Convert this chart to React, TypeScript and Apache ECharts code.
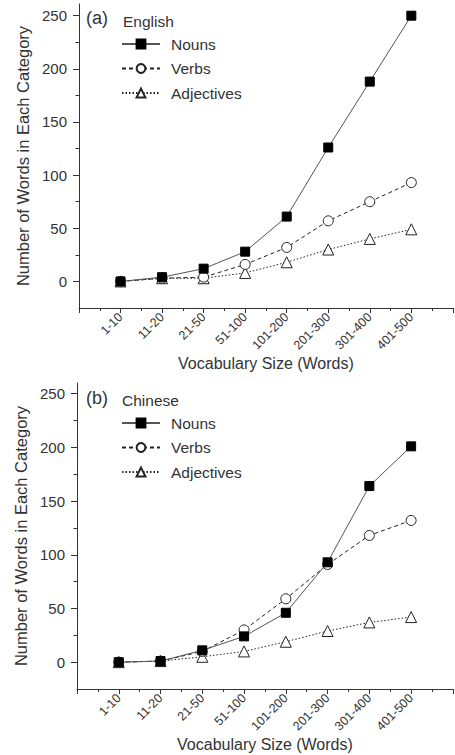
import React, { useEffect, useRef } from "react";
import * as echarts from "echarts";

const categories = ["1-10", "11-20", "21-50", "51-100", "101-200", "201-300", "301-400", "401-500"];
const engNouns = [0, 4, 12, 28, 61, 126, 188, 250];
const engVerbs = [0, 3, 4, 16, 32, 57, 75, 93];
const engAdj = [0, 3, 3, 8, 18, 30, 40, 49];
const chiNouns = [0, 1, 11, 24, 46, 93, 164, 201];
const chiVerbs = [0, 1, 10, 30, 59, 91, 118, 132];
const chiAdj = [0, 1, 5, 10, 19, 29, 37, 42];
const yLabels = [0, 50, 100, 150, 200, 250];
const yMinor = [25, 75, 125, 175, 225];

const FONT = "Liberation Sans";
const TXT = "#333";
const AX = "#333";

const toPts = (vals: number[]) => vals.map((v, i) => [i + 1, v]);

function App() {
  const ref = useRef<HTMLDivElement>(null);
  useEffect(() => {
    document.body.style.margin = "0";
    const chart = echarts.init(ref.current!, null, { renderer: "svg" });
    const xAxis = (gridIndex: number) => ({
      type: "value",
      gridIndex,
      min: 0,
      max: 9,
      interval: 1,
      axisLine: { show: true, onZero: false, lineStyle: { color: AX, width: 1 } },
      axisTick: { show: true, inside: false, length: 5, lineStyle: { color: AX } },
      minorTick: { show: true, splitNumber: 2, length: 3, lineStyle: { color: AX } },
      splitLine: { show: false },
      minorSplitLine: { show: false },
      axisLabel: {
        rotate: 45,
        margin: 7,
        fontFamily: FONT,
        fontSize: 12.5,
        color: TXT,
        formatter: (v: number) => categories[Math.round(v) - 1] ?? "",
      },
      name: "Vocabulary Size (Words)",
      nameLocation: "middle",
      nameGap: 44,
      nameTextStyle: { fontFamily: FONT, fontSize: 16, color: TXT },
    });
    const yAxis = (gridIndex: number, max: number) => ({
      type: "value",
      gridIndex,
      position: "left",
      min: -25,
      max,
      interval: 25,
      axisLine: { show: true, onZero: false, lineStyle: { color: AX, width: 1 } },
      axisTick: { show: true, inside: false, length: 6, customValues: yLabels, lineStyle: { color: AX } },
      splitLine: { show: false },
      axisLabel: {
        margin: 12,
        fontFamily: FONT,
        fontSize: 15,
        color: TXT,
        customValues: yLabels,
        formatter: (v: number) => String(v),
      },
      name: "Number of Words in Each Category",
      nameLocation: "middle",
      nameGap: 48,
      nameRotate: 90,
      nameTextStyle: { fontFamily: FONT, fontSize: 16.5, color: TXT },
    });
    const yMinorAxis = (gridIndex: number, max: number) => ({
      type: "value",
      gridIndex,
      position: "left",
      offset: 0,
      min: -25,
      max,
      interval: 25,
      axisLine: { show: false, onZero: false },
      axisTick: { show: true, inside: false, length: 3.5, customValues: yMinor, lineStyle: { color: AX } },
      splitLine: { show: false },
      axisLabel: { show: false },
    });
    const mk = (name: string, data: number[], idx: number, kind: number) => {
      const styles = [
        { symbol: "rect", symbolSize: 9, line: { color: "#555", width: 1, type: "solid" }, item: { color: "#000", borderColor: "#000", borderWidth: 1 } },
        { symbol: "circle", symbolSize: 10, line: { color: "#222", width: 1, type: [4, 3] }, item: { color: "#fff", borderColor: "#222", borderWidth: 1 } },
        { symbol: "triangle", symbolSize: 11, line: { color: "#222", width: 1, type: [1.5, 2] }, item: { color: "#fff", borderColor: "#222", borderWidth: 1 } },
      ][kind];
      return {
        type: "line",
        name,
        xAxisIndex: idx,
        yAxisIndex: idx,
        data: toPts(data),
        symbol: styles.symbol,
        symbolSize: styles.symbolSize,
        showAllSymbol: true,
        lineStyle: styles.line,
        itemStyle: styles.item,
        z: 5 - kind,
      };
    };
    const legend = (top: number) => ({
      orient: "vertical",
      left: 121,
      top,
      padding: 0,
      itemWidth: 38,
      itemHeight: 11,
      itemGap: 8.5,
      data: ["Nouns", "Verbs", "Adjectives"],
      textStyle: { fontFamily: FONT, fontSize: 15.5, color: TXT, padding: [0, 0, 0, 6] },
      selectedMode: false,
    });
    chart.setOption({
      animation: false,
      backgroundColor: "#fff",
      grid: [
        { left: 79, top: 4, width: 378, height: 304 },
        { left: 77, top: 383, width: 379, height: 306 },
      ],
      xAxis: [xAxis(0), xAxis(1)],
      yAxis: [yAxis(0, 261), yAxis(1, 260), yMinorAxis(0, 261), yMinorAxis(1, 260)],
      legend: [legend(36), legend(415)],
      graphic: [
        { type: "text", left: 86, top: 9, style: { text: "(a)", font: `18px ${FONT}`, fill: TXT } },
        { type: "text", left: 123, top: 13, style: { text: "English", font: `15.5px ${FONT}`, fill: TXT } },
        { type: "text", left: 86, top: 389, style: { text: "(b)", font: `18px ${FONT}`, fill: TXT } },
        { type: "text", left: 122, top: 392, style: { text: "Chinese", font: `15.5px ${FONT}`, fill: TXT } },
      ],
      series: [
        mk("Nouns", engNouns, 0, 0),
        mk("Verbs", engVerbs, 0, 1),
        mk("Adjectives", engAdj, 0, 2),
        mk("Nouns", chiNouns, 1, 0),
        mk("Verbs", chiVerbs, 1, 1),
        mk("Adjectives", chiAdj, 1, 2),
      ],
    });
    return () => chart.dispose();
  }, []);
  return <div ref={ref} style={{ width: 455, height: 755 }} />;
}

export default App;
